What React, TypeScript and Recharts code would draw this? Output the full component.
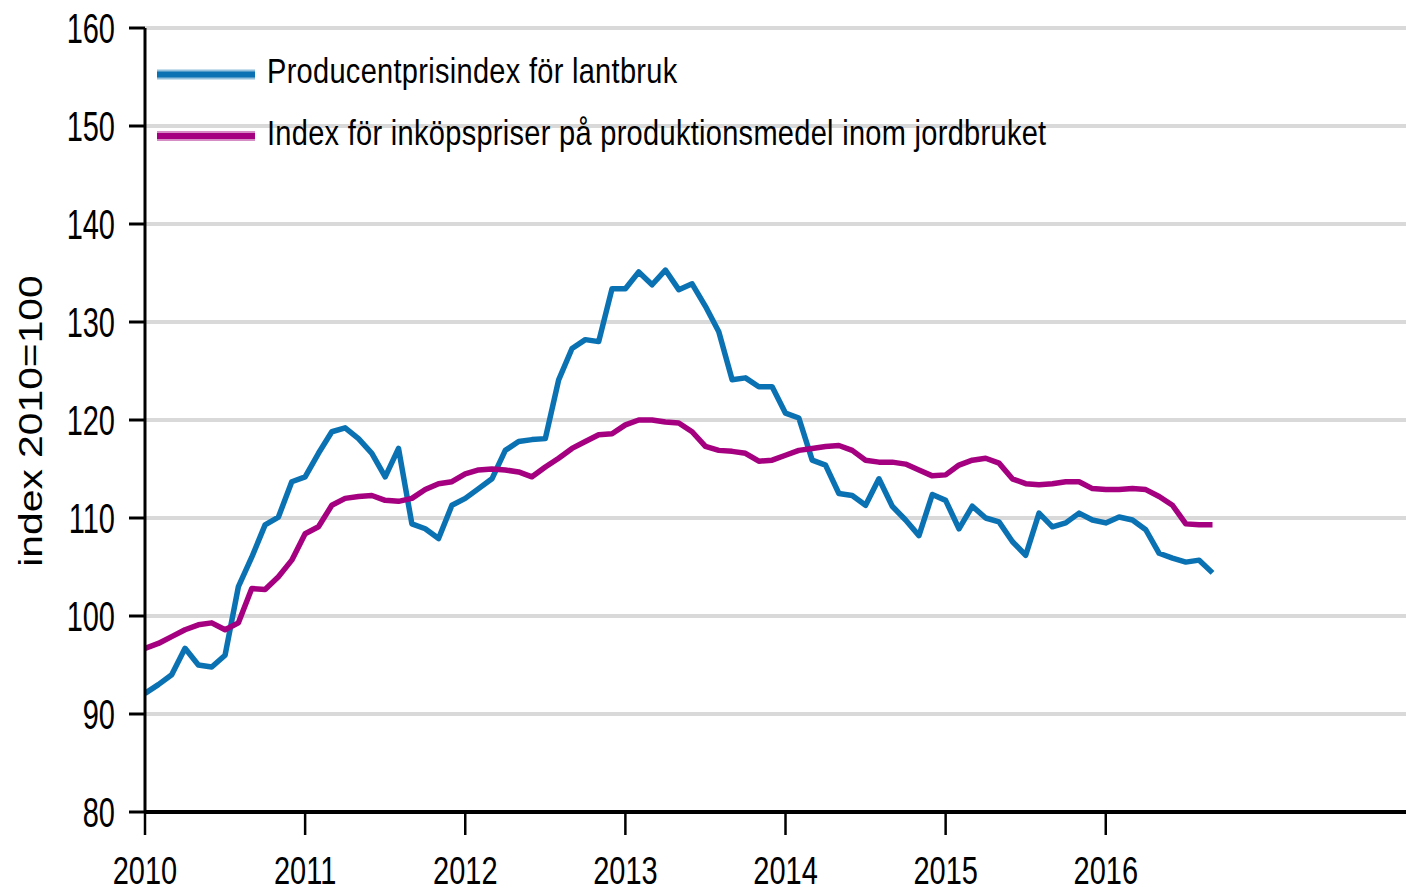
import React from "react";
import { LineChart, Line, XAxis, YAxis, CartesianGrid, Legend } from "recharts";

// Monthly values, Jan 2010 .. Sep 2016
const producentprisindex = [
  92.1, 93.0, 94.0, 96.7, 95.0, 94.8, 96.0, 103.0, 106.0, 109.3, 110.1, 113.7,
  114.2, 116.6, 118.8, 119.2, 118.1, 116.6, 114.2, 117.1, 109.4, 108.9, 107.9, 111.3,
  112.0, 113.0, 114.0, 116.9, 117.8, 118.0, 118.1, 124.1, 127.3, 128.2, 128.0, 133.4,
  133.4, 135.1, 133.8, 135.3, 133.3, 133.9, 131.6, 129.0, 124.1, 124.3, 123.4, 123.4,
  120.7, 120.2, 115.9, 115.4, 112.5, 112.3, 111.3, 114.0, 111.2, 109.8, 108.2, 112.4,
  111.8, 108.9, 111.2, 110.0, 109.6, 107.6, 106.2, 110.5, 109.1, 109.5, 110.5, 109.8,
  109.5, 110.1, 109.8, 108.8, 106.4, 105.9, 105.5, 105.7, 104.4,
];

const inkopspriser = [
  96.7, 97.2, 97.9, 98.6, 99.1, 99.3, 98.6, 99.3, 102.8, 102.7, 104.0, 105.7,
  108.4, 109.1, 111.3, 112.0, 112.2, 112.3, 111.8, 111.7, 112.0, 112.9, 113.5, 113.7,
  114.5, 114.9, 115.0, 114.9, 114.7, 114.2, 115.2, 116.1, 117.1, 117.8, 118.5, 118.6,
  119.5, 120.0, 120.0, 119.8, 119.7, 118.8, 117.3, 116.9, 116.8, 116.6, 115.8, 115.9,
  116.4, 116.9, 117.1, 117.3, 117.4, 116.9, 115.9, 115.7, 115.7, 115.5, 114.9, 114.3,
  114.4, 115.4, 115.9, 116.1, 115.6, 114.0, 113.5, 113.4, 113.5, 113.7, 113.7, 113.0,
  112.9, 112.9, 113.0, 112.9, 112.2, 111.3, 109.4, 109.3, 109.3,
];

const startYear = 2010;
const yearTicks = [2010, 2011, 2012, 2013, 2014, 2015, 2016];
const yTicks = [80, 90, 100, 110, 120, 130, 140, 150, 160];

const seriesNames = [
  "Producentprisindex för lantbruk",
  "Index för inköpspriser på produktionsmedel inom jordbruket",
];
const seriesColors = ["#0a72b2", "#a4007f"];

const data = producentprisindex.map((v, i) => ({
  m: i,
  ppi: v,
  ink: inkopspriser[i],
}));

const FONT = "'Liberation Sans', Arial, Helvetica, sans-serif";

const XTick = (props: any) => {
  const { x, y, payload } = props;
  const year = startYear + Math.round(payload.value / 12);
  return (
    <g transform={`translate(${x},${y + 47}) scale(1,1.36)`}>
      <text x={0} y={0} textAnchor="middle" fontSize={29} fontFamily={FONT} fill="#000">
        {year}
      </text>
    </g>
  );
};

const YTick = (props: any) => {
  const { x, y, payload } = props;
  return (
    <g transform={`translate(${x},${y}) scale(1,1.44)`}>
      <text x={0} y={0} dy="0.358em" textAnchor="end" fontSize={29} fontFamily={FONT} fill="#000">
        {payload.value}
      </text>
    </g>
  );
};

const YTitle = () => (
  <g transform="translate(42,421) rotate(-90) scale(1.2,1)">
    <text x={0} y={0} textAnchor="middle" fontSize={34} fontFamily={FONT} fill="#000">
      index 2010=100
    </text>
  </g>
);

const legendLineY = [74.5, 136];
const legendBase = [83, 145];

const LegendContent = () => (
  <svg width={1100} height={160} style={{ display: "block" }}>
    {seriesNames.map((name, i) => (
      <g key={name}>
        <line x1={157} x2={255} y1={legendLineY[i]} y2={legendLineY[i]} stroke={seriesColors[i]} strokeOpacity={0.45} strokeWidth={10} />
        <line x1={157} x2={255} y1={legendLineY[i]} y2={legendLineY[i]} stroke={seriesColors[i]} strokeWidth={6} />
        <g transform={`translate(267,${legendBase[i]}) scale(1,1.2)`}>
          <text x={0} y={0} fontSize={29} fontFamily={FONT} fill="#000" letterSpacing={0.3}>
            {name}
          </text>
        </g>
      </g>
    ))}
  </svg>
);

export default function App() {
  return (
    <div style={{ position: "absolute", left: 0, top: 0, width: 1406, height: 892, background: "#fff" }}>
      <LineChart width={1406} height={892} data={data} margin={{ top: 28, right: 0, bottom: 0, left: 0 }}>
        <CartesianGrid horizontal vertical={false} stroke="#d9d9d9" strokeWidth={4} />
        <XAxis
          dataKey="m"
          type="number"
          domain={[0, 94.5]}
          allowDataOverflow
          ticks={yearTicks.map((yr) => (yr - startYear) * 12)}
          tick={<XTick />}
          tickSize={23}
          tickMargin={2}
          height={80}
          axisLine={{ stroke: "#000", strokeWidth: 4 }}
          tickLine={{ stroke: "#000", strokeWidth: 2.5 }}
          interval={0}
        />
        <YAxis
          type="number"
          domain={[80, 160]}
          ticks={yTicks}
          tick={<YTick />}
          tickSize={16}
          tickMargin={14}
          width={145}
          axisLine={{ stroke: "#000", strokeWidth: 3 }}
          tickLine={{ stroke: "#000", strokeWidth: 3 }}
          interval={0}
          label={<YTitle />}
        />
        <Legend
          layout="vertical"
          align="center"
          verticalAlign="middle"
          wrapperStyle={{ position: "absolute", left: 0, top: 0, width: 1100, height: 160 }}
          content={<LegendContent />}
        />
        <Line
          type="linear"
          dataKey="ppi"
          name={seriesNames[0]}
          stroke={seriesColors[0]}
          strokeWidth={5.5}
          strokeLinejoin="round"
          dot={false}
          isAnimationActive={false}
        />
        <Line
          type="linear"
          dataKey="ink"
          name={seriesNames[1]}
          stroke={seriesColors[1]}
          strokeWidth={5.5}
          strokeLinejoin="round"
          dot={false}
          isAnimationActive={false}
        />
      </LineChart>
    </div>
  );
}
